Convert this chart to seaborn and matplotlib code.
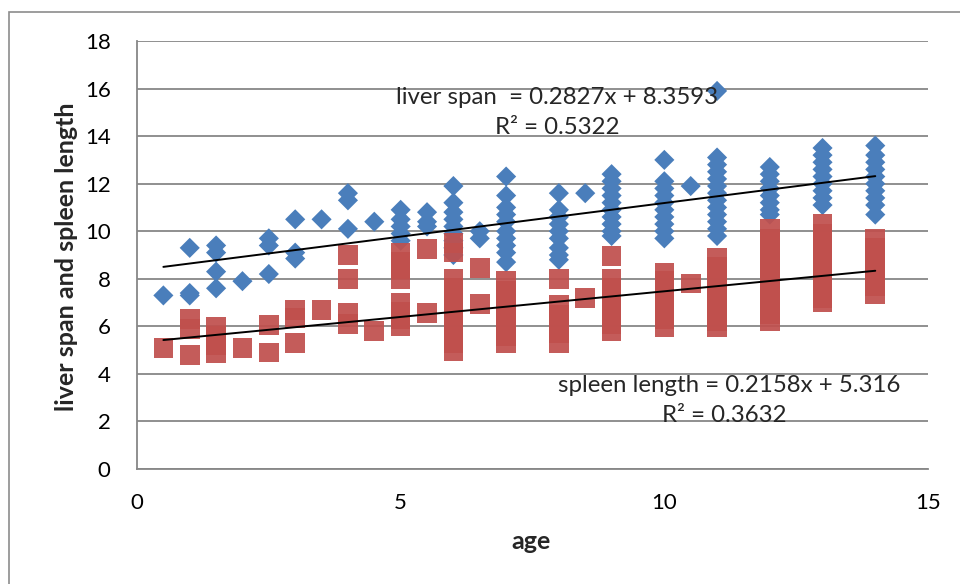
import matplotlib
matplotlib.use("Agg")
import matplotlib.pyplot as plt
import seaborn as sns
import pandas as pd
import numpy as np
from matplotlib.patches import Rectangle

# ---------------- data ----------------
liver_ages = [0.5, 1, 1.5, 2, 2.5, 3, 3.5, 4, 4.5, 5, 5.5, 6, 6.5, 7, 8, 8.5,
              9, 10, 10.5, 11, 12, 13, 14]
liver_values = [
    [7.3],
    [9.3, 7.4, 7.3],
    [9.4, 9.1, 8.3, 7.6],
    [7.9],
    [9.7, 9.4, 8.2],
    [10.5, 9.1, 8.85],
    [10.5],
    [11.6, 11.3, 10.1],
    [10.4],
    [10.9, 10.5, 10.2, 9.9, 9.6],
    [10.8, 10.4, 10.2],
    [11.9, 11.2, 10.8, 10.5, 10.2, 9.9, 9.6, 9.3, 9.0],
    [10.0, 9.7],
    [12.3, 11.5, 11.0, 10.7, 10.4, 10.0, 9.7, 9.4, 9.1, 8.7],
    [11.6, 10.9, 10.6, 10.3, 10.0, 9.7, 9.3, 9.0, 8.8],
    [11.6],
    [12.4, 12.1, 11.8, 11.5, 11.2, 10.9, 10.6, 10.3, 10.0, 9.8],
    [13.0, 12.1, 11.8, 11.5, 11.2, 10.9, 10.6, 10.3, 10.0, 9.7],
    [11.9],
    [15.9, 13.1, 12.8, 12.5, 12.2, 11.9, 11.6, 11.3, 11.0, 10.7, 10.4, 10.1, 9.8],
    [12.7, 12.4, 12.1, 11.8, 11.5, 11.2, 10.9, 10.7],
    [13.5, 13.2, 12.9, 12.6, 12.3, 12.0, 11.7, 11.4, 11.1],
    [13.6, 13.2, 12.9, 12.6, 12.3, 12.0, 11.7, 11.4, 11.1, 10.7],
]

spleen_ages = [0.5, 1, 1.5, 2, 2.5, 3, 3.5, 4, 4.5, 5, 5.5, 6, 6.5, 7, 8, 8.5,
               9, 10, 10.5, 11, 12, 13, 14]
spleen_values = [
    [5.1],
    [6.3, 5.9, 4.8],
    [6.0, 5.6, 5.2, 4.85],
    [5.1],
    [6.05, 4.9],
    [6.7, 6.35, 5.3],
    [6.7],
    [9.0, 8.0, 6.55, 6.1],
    [5.8],
    [9.1, 8.7, 8.4, 8.0, 7.0, 6.6, 6.3, 6.0],
    [9.25, 6.55],
    [9.5, 9.1, 8.0, 7.6, 7.2, 6.8, 6.4, 6.0, 5.6, 5.3, 4.95],
    [8.45, 6.95],
    [7.9, 7.5, 7.1, 6.7, 6.3, 5.9, 5.6, 5.3],
    [8.0, 6.9, 6.5, 6.1, 5.7, 5.3],
    [7.2],
    [8.95, 8.0, 7.6, 7.2, 6.8, 6.4, 6.1, 5.8],
    [8.25, 7.9, 7.5, 7.1, 6.7, 6.3, 5.95],
    [7.8],
    [8.9, 8.5, 8.1, 7.7, 7.3, 6.9, 6.5, 6.2, 5.95],
    [10.1, 9.7, 9.3, 8.9, 8.5, 8.1, 7.7, 7.3, 6.9, 6.5, 6.2],
    [10.3, 9.9, 9.5, 9.1, 8.7, 8.3, 7.9, 7.5, 7.2, 7.0],
    [9.7, 9.3, 8.9, 8.5, 8.1, 7.7, 7.35],
]

# trend lines as printed on the chart
liver_slope, liver_intercept, liver_r2 = 0.2827, 8.3593, 0.5322
spleen_slope, spleen_intercept, spleen_r2 = 0.2158, 5.316, 0.3632
trend_x = [0.5, 14]

x_ticks = [0, 5, 10, 15]
y_ticks = [0, 2, 4, 6, 8, 10, 12, 14, 16, 18]

# ---------------- build frames ----------------
liver_df = pd.DataFrame(
    [(a, v) for a, vals in zip(liver_ages, liver_values) for v in vals],
    columns=["age", "value"])
spleen_df = pd.DataFrame(
    [(a, v) for a, vals in zip(spleen_ages, spleen_values) for v in vals],
    columns=["age", "value"])

# ---------------- style ----------------
sns.set_theme(style="white")
plt.rcParams["font.family"] = ["Lato", "DejaVu Sans"]

W, H = 960, 584
fig = plt.figure(figsize=(W / 100, H / 100), dpi=100)
fig.patch.set_facecolor("white")

# outer chart border (only left/top visible)
fig.add_artist(Rectangle((9 / W, -0.1), 1.2, 1 - 11.5 / H + 0.1,
                         transform=fig.transFigure, fill=False,
                         edgecolor="#8c8c8c", linewidth=1.2))

ax_left, ax_right, ax_top, ax_bottom = 137, 928, 41, 469
ax = fig.add_axes([ax_left / W, 1 - ax_bottom / H,
                   (ax_right - ax_left) / W, (ax_bottom - ax_top) / H])
ax.set_facecolor("white")

grey = "#878787"

sns.scatterplot(data=liver_df, x="age", y="value", marker="D", s=105,
                color="#4A7EBB", edgecolor="none", linewidth=0, ax=ax,
                zorder=3, legend=False)
sns.scatterplot(data=spleen_df, x="age", y="value", marker="s", s=200,
                color="#C0504D", edgecolor="none", linewidth=0, alpha=0.93,
                ax=ax, zorder=4, legend=False)

tx = np.array(trend_x, dtype=float)
ax.plot(tx, liver_slope * tx + liver_intercept, color="black", lw=1.4, zorder=5)
ax.plot(tx, spleen_slope * tx + spleen_intercept, color="black", lw=1.4, zorder=5)

ax.set_xlim(0, 15)
ax.set_ylim(0, 18)
ax.set_xticks(x_ticks)
ax.set_yticks(y_ticks)
ax.grid(axis="y", color=grey, linewidth=1.3)
ax.grid(axis="x", visible=False)
ax.set_axisbelow(True)
for s in ["top", "right"]:
    ax.spines[s].set_visible(False)
for s in ["left", "bottom"]:
    ax.spines[s].set_color(grey)
    ax.spines[s].set_linewidth(1.3)
ax.tick_params(axis="both", direction="out", length=8, width=1.3,
               color=grey, labelsize=16, labelcolor="black")
ax.tick_params(axis="y", pad=11)
ax.tick_params(axis="x", pad=9)

ax.set_xlabel("age", fontsize=18, fontweight="bold")
ax.set_ylabel("liver span and spleen length", fontsize=18, fontweight="bold")
axw, axh = ax_right - ax_left, ax_bottom - ax_top
ax.xaxis.set_label_coords((531 - ax_left) / axw, (ax_bottom - 530) / axh)
ax.yaxis.set_label_coords((78 - ax_left) / axw, (ax_bottom - 257) / axh)

def px_to_data(px, py):
    return ((px - ax_left) / axw * 15, (ax_bottom - py) / axh * 18)

eq_fs = 17.3
x1, y1 = px_to_data(557, 97)
ax.text(x1, y1, f"liver span  = {liver_slope}x + {liver_intercept}",
        ha="center", va="center", fontsize=eq_fs, zorder=6)
x1, y1 = px_to_data(557, 127)
ax.text(x1, y1, f"R² = {liver_r2}", ha="center", va="center",
        fontsize=eq_fs, zorder=6)
x1, y1 = px_to_data(729, 385)
ax.text(x1, y1, f"spleen length = {spleen_slope}x + {spleen_intercept}",
        ha="center", va="center", fontsize=eq_fs, zorder=6)
x1, y1 = px_to_data(724, 416)
ax.text(x1, y1, f"R² = {spleen_r2}", ha="center", va="center",
        fontsize=eq_fs, zorder=6)

fig.savefig("out.png", dpi=100)
